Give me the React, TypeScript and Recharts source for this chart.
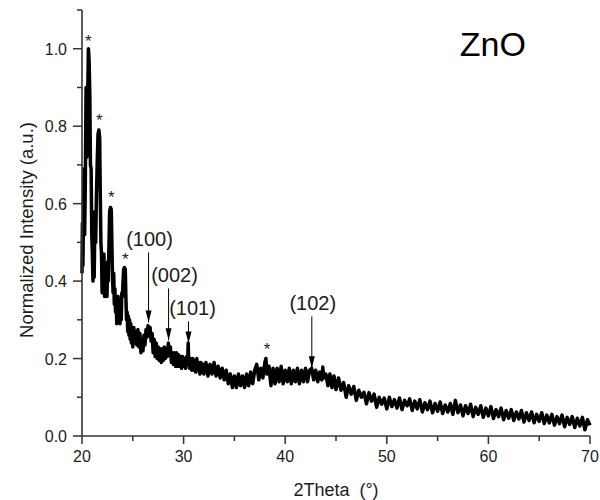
import React from "react";
import {
  LineChart,
  Line,
  XAxis,
  YAxis,
  ReferenceDot,
  ReferenceLine,
  Label,
} from "recharts";

const FONT = "Arial, 'Liberation Sans', sans-serif";
const INK = "#1c1c1c";

// [2theta, normalized intensity]
const peakScan: [number, number][] = [
  [20.0, 0.42], [20.04, 0.55], [20.09, 0.44], [20.15, 0.58], [20.2, 0.69],
  [20.26, 0.52], [20.32, 0.64], [20.4, 0.9], [20.47, 0.72], [20.55, 0.86],
  [20.63, 1.0], [20.7, 0.97], [20.77, 0.88], [20.83, 0.7], [20.9, 0.69],
  [20.96, 0.52], [21.02, 0.47], [21.08, 0.4], [21.14, 0.44], [21.2, 0.41],
  [21.28, 0.58], [21.35, 0.5], [21.42, 0.62], [21.5, 0.71], [21.58, 0.78],
  [21.66, 0.79], [21.74, 0.77], [21.8, 0.62], [21.86, 0.5], [21.92, 0.47],
  [21.98, 0.37], [22.04, 0.46], [22.1, 0.38], [22.16, 0.47], [22.22, 0.36],
  [22.28, 0.44], [22.34, 0.37], [22.4, 0.42], [22.46, 0.36], [22.52, 0.45],
  [22.58, 0.4], [22.66, 0.5], [22.72, 0.58], [22.8, 0.59], [22.88, 0.585],
  [22.94, 0.5], [23.0, 0.41], [23.06, 0.37], [23.12, 0.42], [23.18, 0.34],
  [23.24, 0.38], [23.3, 0.32], [23.36, 0.36], [23.42, 0.29], [23.48, 0.35],
  [23.55, 0.36], [23.62, 0.3], [23.68, 0.35], [23.74, 0.29], [23.8, 0.33],
  [23.86, 0.3], [23.92, 0.37], [23.98, 0.36], [24.04, 0.4], [24.1, 0.43],
  [24.18, 0.435], [24.26, 0.43], [24.32, 0.36], [24.38, 0.3], [24.44, 0.32],
  [24.5, 0.27], [24.56, 0.31], [24.62, 0.26], [24.68, 0.3], [24.74, 0.25],
  [24.8, 0.29], [24.86, 0.24], [24.92, 0.28], [25.0, 0.23],
];

const midScan: [number, number][] = [
  [25.1, 0.28], [25.2, 0.24], [25.3, 0.27], [25.4, 0.235], [25.5, 0.275],
  [25.6, 0.23], [25.7, 0.265], [25.8, 0.215], [25.9, 0.25], [26.0, 0.22],
  [26.1, 0.26], [26.2, 0.235], [26.3, 0.275], [26.4, 0.255], [26.5, 0.285],
  [26.6, 0.26], [26.7, 0.28], [26.8, 0.245], [26.9, 0.265], [27.0, 0.215],
  [27.1, 0.25], [27.2, 0.205], [27.3, 0.24], [27.4, 0.2], [27.5, 0.23],
  [27.6, 0.195], [27.7, 0.225], [27.8, 0.19], [27.9, 0.225], [28.0, 0.195],
  [28.1, 0.23], [28.2, 0.2], [28.3, 0.225], [28.4, 0.205], [28.5, 0.24],
  [28.6, 0.21], [28.7, 0.23], [28.8, 0.19], [28.9, 0.215], [29.0, 0.185],
  [29.1, 0.215], [29.2, 0.18], [29.3, 0.215], [29.4, 0.18], [29.5, 0.21],
  [29.6, 0.18], [29.7, 0.205], [29.8, 0.175], [29.9, 0.205], [30.0, 0.18],
  [30.1, 0.2], [30.2, 0.175], [30.3, 0.205], [30.4, 0.19], [30.45, 0.24],
  [30.5, 0.2], [30.6, 0.175], [30.7, 0.2], [30.8, 0.17], [30.9, 0.2],
  [31.0, 0.17], [31.1, 0.195], [31.2, 0.165], [31.3, 0.2], [31.4, 0.17],
  [31.5, 0.19], [31.6, 0.16], [31.7, 0.19], [31.8, 0.165], [31.9, 0.185],
  [32.0, 0.16], [32.2, 0.19], [32.4, 0.155], [32.6, 0.185], [32.8, 0.16],
  [33.0, 0.19], [33.2, 0.155], [33.4, 0.18], [33.6, 0.15], [33.8, 0.175],
  [34.0, 0.145], [34.2, 0.17], [34.4, 0.135], [34.6, 0.16], [34.8, 0.125],
  [35.0, 0.155], [35.2, 0.125], [35.4, 0.16], [35.6, 0.13], [35.8, 0.155],
  [36.0, 0.125], [36.2, 0.16], [36.4, 0.13], [36.6, 0.165], [36.8, 0.135],
  [37.0, 0.17], [37.2, 0.185], [37.4, 0.145], [37.6, 0.175], [37.8, 0.15],
  [38.0, 0.19], [38.1, 0.2], [38.2, 0.16], [38.4, 0.18], [38.6, 0.13],
  [38.8, 0.175], [39.0, 0.135], [39.2, 0.175], [39.4, 0.14], [39.6, 0.18],
  [39.8, 0.135], [40.0, 0.17], [40.2, 0.14], [40.4, 0.175], [40.6, 0.135],
  [40.8, 0.17], [41.0, 0.14], [41.2, 0.175], [41.4, 0.135], [41.6, 0.17],
  [41.8, 0.14], [42.0, 0.175], [42.2, 0.14], [42.4, 0.17], [42.6, 0.175],
  [42.8, 0.145], [43.0, 0.17], [43.2, 0.14], [43.4, 0.165], [43.6, 0.145],
  [43.7, 0.178], [43.8, 0.15], [44.0, 0.16], [44.2, 0.13], [44.4, 0.16],
  [44.6, 0.125], [44.8, 0.155], [45.0, 0.12],
];

const tailScan: [number, number][] = [
  [45.25, 0.15], [45.5, 0.118], [45.75, 0.138], [46.0, 0.1], [46.25, 0.13],
  [46.5, 0.108], [46.75, 0.128], [47.0, 0.092], [47.25, 0.118], [47.5, 0.1],
  [47.75, 0.113], [48.0, 0.083], [48.25, 0.112], [48.5, 0.09], [48.75, 0.108],
  [49.0, 0.074], [49.25, 0.1], [49.5, 0.082], [49.75, 0.098], [50.0, 0.07],
  [50.25, 0.1], [50.5, 0.076], [50.75, 0.094], [51.0, 0.072], [51.25, 0.098],
  [51.5, 0.068], [51.75, 0.092], [52.0, 0.078], [52.25, 0.096], [52.5, 0.066],
  [52.75, 0.09], [53.0, 0.07], [53.25, 0.094], [53.5, 0.062], [53.75, 0.086],
  [54.0, 0.068], [54.25, 0.09], [54.5, 0.06], [54.75, 0.084], [55.0, 0.064],
  [55.25, 0.088], [55.5, 0.058], [55.75, 0.08], [56.0, 0.062], [56.25, 0.084],
  [56.5, 0.056], [56.75, 0.092], [57.0, 0.06], [57.25, 0.08], [57.5, 0.052],
  [57.75, 0.078], [58.0, 0.058], [58.25, 0.082], [58.5, 0.05], [58.75, 0.074],
  [59.0, 0.056], [59.25, 0.078], [59.5, 0.048], [59.75, 0.072], [60.0, 0.052],
  [60.25, 0.076], [60.5, 0.045], [60.75, 0.068], [61.0, 0.05], [61.25, 0.072],
  [61.5, 0.042], [61.75, 0.066], [62.0, 0.046], [62.25, 0.068], [62.5, 0.04],
  [62.75, 0.062], [63.0, 0.044], [63.25, 0.066], [63.5, 0.036], [63.75, 0.06],
  [64.0, 0.04], [64.25, 0.062], [64.5, 0.034], [64.75, 0.056], [65.0, 0.038],
  [65.25, 0.06], [65.5, 0.032], [65.75, 0.054], [66.0, 0.034], [66.25, 0.056],
  [66.5, 0.028], [66.75, 0.05], [67.0, 0.032], [67.25, 0.054], [67.5, 0.024],
  [67.75, 0.048], [68.0, 0.03], [68.25, 0.05], [68.5, 0.022], [68.75, 0.046],
  [69.0, 0.026], [69.25, 0.048], [69.5, 0.016], [69.75, 0.042], [70.0, 0.028],
];

const xTicks = [20, 25, 30, 35, 40, 45, 50, 55, 60, 65, 70];
const yTicks = [0, 0.1, 0.2, 0.3, 0.4, 0.5, 0.6, 0.7, 0.8, 0.9, 1.0, 1.1];

// asterisk markers (impurity peaks)
const starMarks: [number, number][] = [
  [20.62, 1.029], [21.7, 0.825], [22.88, 0.626], [24.26, 0.466], [38.22, 0.234],
];

// ZnO reflections: label, 2theta, arrow tail, arrow tip
const hklNames = ["(100)", "(002)", "(101)", "(102)"];
const hklAngles = [26.55, 28.52, 30.48, 42.62];
const hklTails = [0.474, 0.381, 0.296, 0.309];
const hklTips = [0.293, 0.247, 0.239, 0.175];

const sampleName = "ZnO";

const scan = [...peakScan, ...midScan, ...tailScan].map(([twoTheta, intensity]) => ({
  twoTheta,
  intensity,
}));

const labelShift = [1, 6, 4, 1];

const XTick = ({ x, y, payload }: any) => {
  const major = payload.value % 10 === 0;
  return (
    <g>
      <line x1={x} y1={y} x2={x} y2={y + (major ? 8 : 5)} stroke="#333" strokeWidth={1.5} />
      {major && (
        <text x={x} y={y + 26} textAnchor="middle" fontSize={16} fontFamily={FONT} fill={INK}>
          {payload.value}
        </text>
      )}
    </g>
  );
};

const YTick = ({ x, y, payload }: any) => {
  const major = Math.round(payload.value * 10) % 2 === 0;
  return (
    <g>
      <line x1={x} y1={y} x2={x - (major ? 9 : 5)} y2={y} stroke="#333" strokeWidth={1.5} />
      {major && (
        <text x={x - 15} y={y + 6} textAnchor="end" fontSize={16} fontFamily={FONT} fill={INK}>
          {payload.value.toFixed(1)}
        </text>
      )}
    </g>
  );
};

export default function App() {
  return (
    <div style={{ position: "absolute", left: 0, top: 0, background: "#fff" }}>
      <LineChart
        width={600}
        height={500}
        data={scan}
        margin={{ top: 10, right: 10, bottom: 0, left: 0 }}
      >
        <XAxis
          dataKey="twoTheta"
          type="number"
          domain={[20, 70]}
          ticks={xTicks}
          interval={0}
          height={64}
          tickSize={0}
          tickMargin={0}
          tick={<XTick />}
          axisLine={{ stroke: "#333", strokeWidth: 1.6 }}
          tickLine={false}
        >
          <Label
            content={() => (
              <text
                x={336}
                y={496}
                textAnchor="middle"
                fontSize={18}
                fontFamily={FONT}
                fill={INK}
              >
                {"2Theta\u00a0 (°)"}
              </text>
            )}
          />
        </XAxis>
        <YAxis
          type="number"
          domain={[0, 1.1]}
          ticks={yTicks}
          interval={0}
          width={82}
          tickSize={0}
          tickMargin={0}
          tick={<YTick />}
          axisLine={{ stroke: "#333", strokeWidth: 1.6 }}
          tickLine={false}
        >
          <Label
            content={() => (
              <text
                transform="translate(33,230) rotate(-90)"
                textAnchor="middle"
                fontSize={18.5}
                fontFamily={FONT}
                fill={INK}
              >
                Normalized Intensity (a.u.)
              </text>
            )}
          />
        </YAxis>

        <Line
          dataKey="intensity"
          type="linear"
          stroke="#000"
          strokeWidth={3.5}
          strokeLinejoin="round"
          dot={false}
          isAnimationActive={false}
        />

        {starMarks.map(([sx, sy], i) => (
          <ReferenceDot
            key={`star-${i}`}
            x={sx}
            y={sy}
            r={1}
            ifOverflow="visible"
            shape={(p: any) => (
              <text
                x={p.cx}
                y={p.cy}
                dy="0.58em"
                textAnchor="middle"
                fontSize={17}
                fontFamily={FONT}
                fill="#2a1a30"
              >
                *
              </text>
            )}
          />
        ))}

        {hklNames.map((name, i) => (
          <ReferenceLine
            key={`shaft-${i}`}
            segment={[
              { x: hklAngles[i], y: hklTails[i] },
              { x: hklAngles[i], y: hklTips[i] },
            ]}
            stroke="#000"
            strokeWidth={1}
            ifOverflow="visible"
          />
        ))}
        {hklNames.map((name, i) => (
          <ReferenceDot
            key={`head-${i}`}
            x={hklAngles[i]}
            y={hklTips[i]}
            r={1}
            ifOverflow="visible"
            shape={(p: any) => (
              <polygon
                points={`${p.cx - 3},${p.cy - 12} ${p.cx + 3},${p.cy - 12} ${p.cx},${p.cy}`}
                fill="#000"
              />
            )}
          />
        ))}
        {hklNames.map((name, i) => (
          <ReferenceDot
            key={`hkl-${i}`}
            x={hklAngles[i]}
            y={hklTails[i]}
            r={1}
            ifOverflow="visible"
            shape={(p: any) => (
              <text
                x={p.cx + labelShift[i]}
                y={p.cy - 6}
                textAnchor="middle"
                fontSize={20}
                fontFamily={FONT}
                fill={INK}
              >
                {name}
              </text>
            )}
          />
        ))}

        <ReferenceDot
          x={60.44}
          y={0.982}
          r={1}
          ifOverflow="visible"
          shape={(p: any) => (
            <text
              x={p.cx}
              y={p.cy}
              textAnchor="middle"
              fontSize={34}
              fontFamily={FONT}
              fill="#000"
            >
              {sampleName}
            </text>
          )}
        />
      </LineChart>
    </div>
  );
}
